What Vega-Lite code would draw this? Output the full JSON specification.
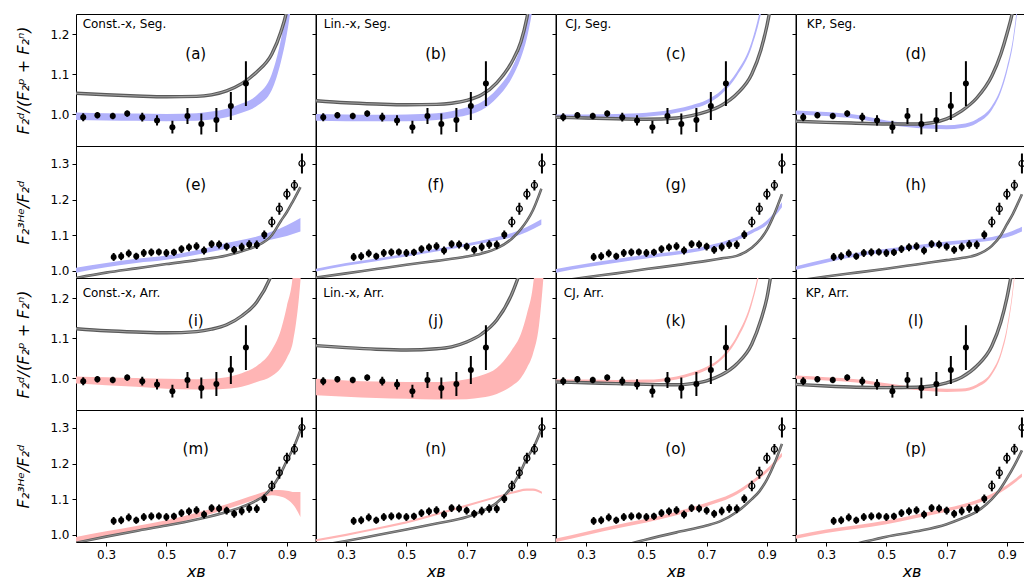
{
  "$schema": "https://vega.github.io/schema/vega-lite/v6.json",
  "background": "white",
  "padding": {"left": 15, "top": 13, "right": 0, "bottom": 0},
  "columns": 4,
  "spacing": 0,
  "bounds": "flush",
  "datasets": {
    "dnp": [
      {"x": 0.224, "y": 0.992, "lo": 0.982, "hi": 1.002},
      {"x": 0.271, "y": 0.997, "lo": 0.989, "hi": 1.005},
      {"x": 0.322, "y": 0.995, "lo": 0.987, "hi": 1.003},
      {"x": 0.370, "y": 1.001, "lo": 0.993, "hi": 1.009},
      {"x": 0.420, "y": 0.992, "lo": 0.981, "hi": 1.003},
      {"x": 0.469, "y": 0.984, "lo": 0.971, "hi": 0.997},
      {"x": 0.520, "y": 0.967, "lo": 0.951, "hi": 0.983},
      {"x": 0.570, "y": 0.995, "lo": 0.975, "hi": 1.015},
      {"x": 0.616, "y": 0.975, "lo": 0.949, "hi": 1.001},
      {"x": 0.666, "y": 0.985, "lo": 0.955, "hi": 1.015},
      {"x": 0.714, "y": 1.020, "lo": 0.985, "hi": 1.055},
      {"x": 0.764, "y": 1.076, "lo": 1.020, "hi": 1.132}
    ],
    "he": [
      {"x": 0.325, "y": 1.039, "lo": 1.028, "hi": 1.050, "o": 0},
      {"x": 0.350, "y": 1.041, "lo": 1.030, "hi": 1.052, "o": 0},
      {"x": 0.375, "y": 1.049, "lo": 1.038, "hi": 1.060, "o": 0},
      {"x": 0.400, "y": 1.041, "lo": 1.031, "hi": 1.051, "o": 0},
      {"x": 0.425, "y": 1.050, "lo": 1.039, "hi": 1.061, "o": 0},
      {"x": 0.450, "y": 1.052, "lo": 1.041, "hi": 1.063, "o": 0},
      {"x": 0.475, "y": 1.053, "lo": 1.043, "hi": 1.063, "o": 0},
      {"x": 0.500, "y": 1.050, "lo": 1.039, "hi": 1.061, "o": 0},
      {"x": 0.525, "y": 1.052, "lo": 1.042, "hi": 1.062, "o": 0},
      {"x": 0.550, "y": 1.061, "lo": 1.050, "hi": 1.072, "o": 0},
      {"x": 0.575, "y": 1.066, "lo": 1.055, "hi": 1.077, "o": 0},
      {"x": 0.600, "y": 1.069, "lo": 1.058, "hi": 1.080, "o": 0},
      {"x": 0.625, "y": 1.057, "lo": 1.046, "hi": 1.068, "o": 0},
      {"x": 0.650, "y": 1.075, "lo": 1.064, "hi": 1.086, "o": 0},
      {"x": 0.675, "y": 1.074, "lo": 1.063, "hi": 1.085, "o": 0},
      {"x": 0.700, "y": 1.068, "lo": 1.057, "hi": 1.079, "o": 0},
      {"x": 0.725, "y": 1.059, "lo": 1.048, "hi": 1.070, "o": 0},
      {"x": 0.750, "y": 1.067, "lo": 1.055, "hi": 1.079, "o": 0},
      {"x": 0.775, "y": 1.074, "lo": 1.062, "hi": 1.086, "o": 0},
      {"x": 0.800, "y": 1.073, "lo": 1.061, "hi": 1.085, "o": 0},
      {"x": 0.825, "y": 1.101, "lo": 1.089, "hi": 1.113, "o": 0},
      {"x": 0.850, "y": 1.137, "lo": 1.122, "hi": 1.152, "o": 1},
      {"x": 0.875, "y": 1.174, "lo": 1.157, "hi": 1.191, "o": 1},
      {"x": 0.900, "y": 1.215, "lo": 1.200, "hi": 1.230, "o": 1},
      {"x": 0.925, "y": 1.240, "lo": 1.225, "hi": 1.255, "o": 1},
      {"x": 0.950, "y": 1.301, "lo": 1.273, "hi": 1.329, "o": 1}
    ],
    "gray": [
      {"p": "a", "x": 0.2, "y": 1.052}, {"p": "a", "x": 0.3, "y": 1.048}, {"p": "a", "x": 0.4, "y": 1.045}, {"p": "a", "x": 0.5, "y": 1.043}, {"p": "a", "x": 0.6, "y": 1.044}, {"p": "a", "x": 0.65, "y": 1.048}, {"p": "a", "x": 0.7, "y": 1.058}, {"p": "a", "x": 0.75, "y": 1.076}, {"p": "a", "x": 0.8, "y": 1.105}, {"p": "a", "x": 0.85, "y": 1.15}, {"p": "a", "x": 0.88, "y": 1.205}, {"p": "a", "x": 0.9, "y": 1.26}, {"p": "a", "x": 0.92, "y": 1.36},
      {"p": "b", "x": 0.2, "y": 1.033}, {"p": "b", "x": 0.3, "y": 1.028}, {"p": "b", "x": 0.4, "y": 1.025}, {"p": "b", "x": 0.5, "y": 1.023}, {"p": "b", "x": 0.6, "y": 1.024}, {"p": "b", "x": 0.65, "y": 1.027}, {"p": "b", "x": 0.7, "y": 1.034}, {"p": "b", "x": 0.75, "y": 1.048}, {"p": "b", "x": 0.8, "y": 1.078}, {"p": "b", "x": 0.85, "y": 1.13}, {"p": "b", "x": 0.88, "y": 1.18}, {"p": "b", "x": 0.9, "y": 1.24}, {"p": "b", "x": 0.92, "y": 1.33},
      {"p": "c", "x": 0.2, "y": 0.992}, {"p": "c", "x": 0.3, "y": 0.99}, {"p": "c", "x": 0.4, "y": 0.988}, {"p": "c", "x": 0.5, "y": 0.987}, {"p": "c", "x": 0.6, "y": 0.99}, {"p": "c", "x": 0.65, "y": 0.996}, {"p": "c", "x": 0.7, "y": 1.006}, {"p": "c", "x": 0.75, "y": 1.022}, {"p": "c", "x": 0.8, "y": 1.05}, {"p": "c", "x": 0.85, "y": 1.1}, {"p": "c", "x": 0.88, "y": 1.16}, {"p": "c", "x": 0.9, "y": 1.22}, {"p": "c", "x": 0.92, "y": 1.3},
      {"p": "d", "x": 0.2, "y": 0.982}, {"p": "d", "x": 0.3, "y": 0.979}, {"p": "d", "x": 0.4, "y": 0.977}, {"p": "d", "x": 0.5, "y": 0.975}, {"p": "d", "x": 0.6, "y": 0.975}, {"p": "d", "x": 0.65, "y": 0.978}, {"p": "d", "x": 0.7, "y": 0.988}, {"p": "d", "x": 0.75, "y": 1.008}, {"p": "d", "x": 0.8, "y": 1.04}, {"p": "d", "x": 0.85, "y": 1.095}, {"p": "d", "x": 0.88, "y": 1.15}, {"p": "d", "x": 0.9, "y": 1.2}, {"p": "d", "x": 0.92, "y": 1.26}, {"p": "d", "x": 0.94, "y": 1.36},
      {"p": "e", "x": 0.2, "y": 0.98}, {"p": "e", "x": 0.3, "y": 0.995}, {"p": "e", "x": 0.4, "y": 1.007}, {"p": "e", "x": 0.5, "y": 1.019}, {"p": "e", "x": 0.6, "y": 1.03}, {"p": "e", "x": 0.7, "y": 1.043}, {"p": "e", "x": 0.75, "y": 1.055}, {"p": "e", "x": 0.8, "y": 1.07}, {"p": "e", "x": 0.85, "y": 1.1}, {"p": "e", "x": 0.88, "y": 1.14}, {"p": "e", "x": 0.9, "y": 1.165}, {"p": "e", "x": 0.92, "y": 1.195}, {"p": "e", "x": 0.945, "y": 1.235},
      {"p": "f", "x": 0.2, "y": 0.981}, {"p": "f", "x": 0.3, "y": 0.993}, {"p": "f", "x": 0.4, "y": 1.005}, {"p": "f", "x": 0.5, "y": 1.017}, {"p": "f", "x": 0.6, "y": 1.028}, {"p": "f", "x": 0.7, "y": 1.04}, {"p": "f", "x": 0.75, "y": 1.049}, {"p": "f", "x": 0.8, "y": 1.063}, {"p": "f", "x": 0.85, "y": 1.09}, {"p": "f", "x": 0.88, "y": 1.117}, {"p": "f", "x": 0.9, "y": 1.14}, {"p": "f", "x": 0.92, "y": 1.17}, {"p": "f", "x": 0.948, "y": 1.23},
      {"p": "g", "x": 0.2, "y": 0.97}, {"p": "g", "x": 0.3, "y": 0.982}, {"p": "g", "x": 0.4, "y": 0.993}, {"p": "g", "x": 0.5, "y": 1.005}, {"p": "g", "x": 0.6, "y": 1.016}, {"p": "g", "x": 0.7, "y": 1.028}, {"p": "g", "x": 0.75, "y": 1.035}, {"p": "g", "x": 0.8, "y": 1.042}, {"p": "g", "x": 0.85, "y": 1.065}, {"p": "g", "x": 0.88, "y": 1.09}, {"p": "g", "x": 0.9, "y": 1.115}, {"p": "g", "x": 0.92, "y": 1.15}, {"p": "g", "x": 0.95, "y": 1.215},
      {"p": "h", "x": 0.2, "y": 0.972}, {"p": "h", "x": 0.3, "y": 0.984}, {"p": "h", "x": 0.4, "y": 0.995}, {"p": "h", "x": 0.5, "y": 1.006}, {"p": "h", "x": 0.6, "y": 1.018}, {"p": "h", "x": 0.7, "y": 1.03}, {"p": "h", "x": 0.75, "y": 1.036}, {"p": "h", "x": 0.8, "y": 1.045}, {"p": "h", "x": 0.85, "y": 1.07}, {"p": "h", "x": 0.88, "y": 1.1}, {"p": "h", "x": 0.9, "y": 1.13}, {"p": "h", "x": 0.92, "y": 1.16}, {"p": "h", "x": 0.95, "y": 1.215},
      {"p": "i", "x": 0.2, "y": 1.123}, {"p": "i", "x": 0.3, "y": 1.118}, {"p": "i", "x": 0.4, "y": 1.115}, {"p": "i", "x": 0.5, "y": 1.113}, {"p": "i", "x": 0.6, "y": 1.116}, {"p": "i", "x": 0.65, "y": 1.122}, {"p": "i", "x": 0.7, "y": 1.133}, {"p": "i", "x": 0.75, "y": 1.155}, {"p": "i", "x": 0.8, "y": 1.19}, {"p": "i", "x": 0.85, "y": 1.26}, {"p": "i", "x": 0.88, "y": 1.33},
      {"p": "j", "x": 0.2, "y": 1.081}, {"p": "j", "x": 0.3, "y": 1.076}, {"p": "j", "x": 0.4, "y": 1.072}, {"p": "j", "x": 0.5, "y": 1.07}, {"p": "j", "x": 0.6, "y": 1.073}, {"p": "j", "x": 0.65, "y": 1.078}, {"p": "j", "x": 0.7, "y": 1.09}, {"p": "j", "x": 0.75, "y": 1.11}, {"p": "j", "x": 0.8, "y": 1.145}, {"p": "j", "x": 0.85, "y": 1.21}, {"p": "j", "x": 0.88, "y": 1.27},
      {"p": "k", "x": 0.2, "y": 0.99}, {"p": "k", "x": 0.3, "y": 0.988}, {"p": "k", "x": 0.4, "y": 0.986}, {"p": "k", "x": 0.5, "y": 0.984}, {"p": "k", "x": 0.6, "y": 0.983}, {"p": "k", "x": 0.65, "y": 0.986}, {"p": "k", "x": 0.7, "y": 0.993}, {"p": "k", "x": 0.75, "y": 1.008}, {"p": "k", "x": 0.8, "y": 1.035}, {"p": "k", "x": 0.85, "y": 1.085}, {"p": "k", "x": 0.88, "y": 1.145}, {"p": "k", "x": 0.9, "y": 1.2}, {"p": "k", "x": 0.92, "y": 1.29},
      {"p": "l", "x": 0.2, "y": 0.984}, {"p": "l", "x": 0.3, "y": 0.98}, {"p": "l", "x": 0.4, "y": 0.977}, {"p": "l", "x": 0.5, "y": 0.976}, {"p": "l", "x": 0.6, "y": 0.977}, {"p": "l", "x": 0.65, "y": 0.98}, {"p": "l", "x": 0.7, "y": 0.988}, {"p": "l", "x": 0.75, "y": 1.002}, {"p": "l", "x": 0.8, "y": 1.03}, {"p": "l", "x": 0.85, "y": 1.08}, {"p": "l", "x": 0.88, "y": 1.14}, {"p": "l", "x": 0.9, "y": 1.2}, {"p": "l", "x": 0.92, "y": 1.28},
      {"p": "m", "x": 0.2, "y": 0.978}, {"p": "m", "x": 0.3, "y": 0.995}, {"p": "m", "x": 0.4, "y": 1.011}, {"p": "m", "x": 0.5, "y": 1.026}, {"p": "m", "x": 0.6, "y": 1.043}, {"p": "m", "x": 0.7, "y": 1.064}, {"p": "m", "x": 0.75, "y": 1.078}, {"p": "m", "x": 0.8, "y": 1.097}, {"p": "m", "x": 0.825, "y": 1.11}, {"p": "m", "x": 0.85, "y": 1.133}, {"p": "m", "x": 0.875, "y": 1.165}, {"p": "m", "x": 0.9, "y": 1.208}, {"p": "m", "x": 0.925, "y": 1.25}, {"p": "m", "x": 0.95, "y": 1.305},
      {"p": "n", "x": 0.2, "y": 0.968}, {"p": "n", "x": 0.3, "y": 0.983}, {"p": "n", "x": 0.4, "y": 0.999}, {"p": "n", "x": 0.5, "y": 1.015}, {"p": "n", "x": 0.6, "y": 1.032}, {"p": "n", "x": 0.7, "y": 1.05}, {"p": "n", "x": 0.75, "y": 1.066}, {"p": "n", "x": 0.8, "y": 1.09}, {"p": "n", "x": 0.85, "y": 1.135}, {"p": "n", "x": 0.875, "y": 1.17}, {"p": "n", "x": 0.9, "y": 1.215}, {"p": "n", "x": 0.925, "y": 1.25}, {"p": "n", "x": 0.95, "y": 1.3},
      {"p": "o", "x": 0.2, "y": 0.925}, {"p": "o", "x": 0.3, "y": 0.945}, {"p": "o", "x": 0.4, "y": 0.965}, {"p": "o", "x": 0.5, "y": 0.987}, {"p": "o", "x": 0.6, "y": 1.007}, {"p": "o", "x": 0.7, "y": 1.026}, {"p": "o", "x": 0.75, "y": 1.04}, {"p": "o", "x": 0.8, "y": 1.064}, {"p": "o", "x": 0.85, "y": 1.1}, {"p": "o", "x": 0.875, "y": 1.122}, {"p": "o", "x": 0.9, "y": 1.155}, {"p": "o", "x": 0.925, "y": 1.2}, {"p": "o", "x": 0.95, "y": 1.255},
      {"p": "p", "x": 0.2, "y": 0.93}, {"p": "p", "x": 0.3, "y": 0.955}, {"p": "p", "x": 0.4, "y": 0.975}, {"p": "p", "x": 0.5, "y": 0.995}, {"p": "p", "x": 0.6, "y": 1.01}, {"p": "p", "x": 0.7, "y": 1.03}, {"p": "p", "x": 0.75, "y": 1.046}, {"p": "p", "x": 0.8, "y": 1.065}, {"p": "p", "x": 0.85, "y": 1.1}, {"p": "p", "x": 0.875, "y": 1.125}, {"p": "p", "x": 0.9, "y": 1.158}, {"p": "p", "x": 0.925, "y": 1.195}, {"p": "p", "x": 0.95, "y": 1.237}
    ],
    "band": [
      {"p": "a", "x": 0.2, "lo": 0.985, "hi": 1.004}, {"p": "a", "x": 0.3, "lo": 0.984, "hi": 1.002}, {"p": "a", "x": 0.4, "lo": 0.983, "hi": 1.001}, {"p": "a", "x": 0.5, "lo": 0.982, "hi": 1.0}, {"p": "a", "x": 0.6, "lo": 0.983, "hi": 1.002}, {"p": "a", "x": 0.65, "lo": 0.986, "hi": 1.006}, {"p": "a", "x": 0.7, "lo": 0.992, "hi": 1.013}, {"p": "a", "x": 0.75, "lo": 1.003, "hi": 1.026}, {"p": "a", "x": 0.8, "lo": 1.02, "hi": 1.047}, {"p": "a", "x": 0.85, "lo": 1.06, "hi": 1.1}, {"p": "a", "x": 0.88, "lo": 1.13, "hi": 1.185}, {"p": "a", "x": 0.9, "lo": 1.2, "hi": 1.27}, {"p": "a", "x": 0.92, "lo": 1.3, "hi": 1.4},
      {"p": "b", "x": 0.2, "lo": 0.983, "hi": 1.0}, {"p": "b", "x": 0.3, "lo": 0.982, "hi": 0.999}, {"p": "b", "x": 0.4, "lo": 0.982, "hi": 0.998}, {"p": "b", "x": 0.5, "lo": 0.982, "hi": 0.999}, {"p": "b", "x": 0.6, "lo": 0.985, "hi": 1.002}, {"p": "b", "x": 0.65, "lo": 0.99, "hi": 1.007}, {"p": "b", "x": 0.7, "lo": 0.997, "hi": 1.016}, {"p": "b", "x": 0.75, "lo": 1.01, "hi": 1.03}, {"p": "b", "x": 0.8, "lo": 1.04, "hi": 1.062}, {"p": "b", "x": 0.85, "lo": 1.09, "hi": 1.115}, {"p": "b", "x": 0.88, "lo": 1.14, "hi": 1.17}, {"p": "b", "x": 0.9, "lo": 1.19, "hi": 1.23}, {"p": "b", "x": 0.92, "lo": 1.27, "hi": 1.32}, {"p": "b", "x": 0.94, "lo": 1.4, "hi": 1.46},
      {"p": "c", "x": 0.2, "lo": 0.989, "hi": 0.999}, {"p": "c", "x": 0.3, "lo": 0.989, "hi": 0.999}, {"p": "c", "x": 0.4, "lo": 0.99, "hi": 1.0}, {"p": "c", "x": 0.5, "lo": 0.993, "hi": 1.003}, {"p": "c", "x": 0.6, "lo": 1.003, "hi": 1.013}, {"p": "c", "x": 0.65, "lo": 1.012, "hi": 1.022}, {"p": "c", "x": 0.7, "lo": 1.025, "hi": 1.035}, {"p": "c", "x": 0.75, "lo": 1.05, "hi": 1.06}, {"p": "c", "x": 0.8, "lo": 1.095, "hi": 1.105}, {"p": "c", "x": 0.85, "lo": 1.168, "hi": 1.182}, {"p": "c", "x": 0.88, "lo": 1.25, "hi": 1.27}, {"p": "c", "x": 0.9, "lo": 1.33, "hi": 1.35},
      {"p": "d", "x": 0.2, "lo": 0.999, "hi": 1.009}, {"p": "d", "x": 0.3, "lo": 0.995, "hi": 1.005}, {"p": "d", "x": 0.4, "lo": 0.988, "hi": 0.998}, {"p": "d", "x": 0.5, "lo": 0.974, "hi": 0.984}, {"p": "d", "x": 0.6, "lo": 0.965, "hi": 0.975}, {"p": "d", "x": 0.65, "lo": 0.963, "hi": 0.973}, {"p": "d", "x": 0.7, "lo": 0.962, "hi": 0.972}, {"p": "d", "x": 0.75, "lo": 0.965, "hi": 0.975}, {"p": "d", "x": 0.8, "lo": 0.977, "hi": 0.987}, {"p": "d", "x": 0.85, "lo": 1.01, "hi": 1.02}, {"p": "d", "x": 0.88, "lo": 1.055, "hi": 1.065}, {"p": "d", "x": 0.9, "lo": 1.104, "hi": 1.116}, {"p": "d", "x": 0.92, "lo": 1.173, "hi": 1.187}, {"p": "d", "x": 0.94, "lo": 1.29, "hi": 1.31},
      {"p": "e", "x": 0.2, "lo": 0.995, "hi": 1.009}, {"p": "e", "x": 0.3, "lo": 1.01, "hi": 1.022}, {"p": "e", "x": 0.4, "lo": 1.022, "hi": 1.034}, {"p": "e", "x": 0.5, "lo": 1.031, "hi": 1.043}, {"p": "e", "x": 0.6, "lo": 1.045, "hi": 1.058}, {"p": "e", "x": 0.7, "lo": 1.062, "hi": 1.078}, {"p": "e", "x": 0.8, "lo": 1.078, "hi": 1.096}, {"p": "e", "x": 0.85, "lo": 1.088, "hi": 1.11}, {"p": "e", "x": 0.9, "lo": 1.098, "hi": 1.128}, {"p": "e", "x": 0.945, "lo": 1.11, "hi": 1.148},
      {"p": "f", "x": 0.2, "lo": 0.998, "hi": 1.006}, {"p": "f", "x": 0.3, "lo": 1.014, "hi": 1.022}, {"p": "f", "x": 0.4, "lo": 1.027, "hi": 1.035}, {"p": "f", "x": 0.5, "lo": 1.04, "hi": 1.048}, {"p": "f", "x": 0.6, "lo": 1.054, "hi": 1.062}, {"p": "f", "x": 0.7, "lo": 1.069, "hi": 1.077}, {"p": "f", "x": 0.8, "lo": 1.085, "hi": 1.095}, {"p": "f", "x": 0.85, "lo": 1.094, "hi": 1.106}, {"p": "f", "x": 0.9, "lo": 1.109, "hi": 1.123}, {"p": "f", "x": 0.948, "lo": 1.129, "hi": 1.145},
      {"p": "g", "x": 0.2, "lo": 0.995, "hi": 1.005}, {"p": "g", "x": 0.3, "lo": 1.01, "hi": 1.02}, {"p": "g", "x": 0.4, "lo": 1.023, "hi": 1.033}, {"p": "g", "x": 0.5, "lo": 1.035, "hi": 1.045}, {"p": "g", "x": 0.6, "lo": 1.045, "hi": 1.055}, {"p": "g", "x": 0.7, "lo": 1.06, "hi": 1.07}, {"p": "g", "x": 0.8, "lo": 1.085, "hi": 1.095}, {"p": "g", "x": 0.85, "lo": 1.105, "hi": 1.115}, {"p": "g", "x": 0.9, "lo": 1.129, "hi": 1.141}, {"p": "g", "x": 0.95, "lo": 1.178, "hi": 1.192},
      {"p": "h", "x": 0.2, "lo": 1.003, "hi": 1.013}, {"p": "h", "x": 0.3, "lo": 1.023, "hi": 1.033}, {"p": "h", "x": 0.4, "lo": 1.04, "hi": 1.05}, {"p": "h", "x": 0.5, "lo": 1.052, "hi": 1.062}, {"p": "h", "x": 0.6, "lo": 1.062, "hi": 1.072}, {"p": "h", "x": 0.7, "lo": 1.072, "hi": 1.082}, {"p": "h", "x": 0.8, "lo": 1.08, "hi": 1.09}, {"p": "h", "x": 0.85, "lo": 1.085, "hi": 1.095}, {"p": "h", "x": 0.9, "lo": 1.094, "hi": 1.106}, {"p": "h", "x": 0.95, "lo": 1.11, "hi": 1.124},
      {"p": "i", "x": 0.2, "lo": 0.986, "hi": 1.004}, {"p": "i", "x": 0.3, "lo": 0.982, "hi": 1.002}, {"p": "i", "x": 0.4, "lo": 0.978, "hi": 1.0}, {"p": "i", "x": 0.5, "lo": 0.973, "hi": 0.998}, {"p": "i", "x": 0.6, "lo": 0.971, "hi": 0.997}, {"p": "i", "x": 0.65, "lo": 0.971, "hi": 0.998}, {"p": "i", "x": 0.7, "lo": 0.973, "hi": 1.002}, {"p": "i", "x": 0.75, "lo": 0.978, "hi": 1.012}, {"p": "i", "x": 0.8, "lo": 0.99, "hi": 1.03}, {"p": "i", "x": 0.85, "lo": 1.005, "hi": 1.07}, {"p": "i", "x": 0.88, "lo": 1.025, "hi": 1.12}, {"p": "i", "x": 0.9, "lo": 1.05, "hi": 1.18}, {"p": "i", "x": 0.92, "lo": 1.09, "hi": 1.26}, {"p": "i", "x": 0.94, "lo": 1.2, "hi": 1.5}, {"p": "i", "x": 0.96, "lo": 1.4, "hi": 1.8},
      {"p": "j", "x": 0.2, "lo": 0.957, "hi": 0.998}, {"p": "j", "x": 0.3, "lo": 0.953, "hi": 0.994}, {"p": "j", "x": 0.4, "lo": 0.95, "hi": 0.991}, {"p": "j", "x": 0.5, "lo": 0.948, "hi": 0.99}, {"p": "j", "x": 0.6, "lo": 0.946, "hi": 0.99}, {"p": "j", "x": 0.7, "lo": 0.947, "hi": 0.997}, {"p": "j", "x": 0.75, "lo": 0.951, "hi": 1.007}, {"p": "j", "x": 0.8, "lo": 0.96, "hi": 1.025}, {"p": "j", "x": 0.85, "lo": 0.98, "hi": 1.07}, {"p": "j", "x": 0.88, "lo": 1.0, "hi": 1.11}, {"p": "j", "x": 0.9, "lo": 1.025, "hi": 1.16}, {"p": "j", "x": 0.92, "lo": 1.06, "hi": 1.23}, {"p": "j", "x": 0.94, "lo": 1.13, "hi": 1.4}, {"p": "j", "x": 0.96, "lo": 1.3, "hi": 1.8},
      {"p": "k", "x": 0.2, "lo": 0.989, "hi": 0.997}, {"p": "k", "x": 0.3, "lo": 0.988, "hi": 0.996}, {"p": "k", "x": 0.4, "lo": 0.987, "hi": 0.995}, {"p": "k", "x": 0.5, "lo": 0.988, "hi": 0.996}, {"p": "k", "x": 0.6, "lo": 0.996, "hi": 1.004}, {"p": "k", "x": 0.65, "lo": 1.006, "hi": 1.014}, {"p": "k", "x": 0.7, "lo": 1.02, "hi": 1.028}, {"p": "k", "x": 0.75, "lo": 1.046, "hi": 1.054}, {"p": "k", "x": 0.8, "lo": 1.095, "hi": 1.105}, {"p": "k", "x": 0.85, "lo": 1.184, "hi": 1.196}, {"p": "k", "x": 0.87, "lo": 1.243, "hi": 1.257}, {"p": "k", "x": 0.9, "lo": 1.37, "hi": 1.39},
      {"p": "l", "x": 0.2, "lo": 0.998, "hi": 1.006}, {"p": "l", "x": 0.3, "lo": 0.994, "hi": 1.002}, {"p": "l", "x": 0.4, "lo": 0.989, "hi": 0.997}, {"p": "l", "x": 0.5, "lo": 0.979, "hi": 0.987}, {"p": "l", "x": 0.6, "lo": 0.97, "hi": 0.978}, {"p": "l", "x": 0.7, "lo": 0.965, "hi": 0.973}, {"p": "l", "x": 0.75, "lo": 0.966, "hi": 0.974}, {"p": "l", "x": 0.8, "lo": 0.976, "hi": 0.984}, {"p": "l", "x": 0.85, "lo": 1.008, "hi": 1.016}, {"p": "l", "x": 0.88, "lo": 1.055, "hi": 1.065}, {"p": "l", "x": 0.9, "lo": 1.114, "hi": 1.126}, {"p": "l", "x": 0.92, "lo": 1.213, "hi": 1.227}, {"p": "l", "x": 0.94, "lo": 1.37, "hi": 1.39},
      {"p": "m", "x": 0.2, "lo": 0.98, "hi": 0.994}, {"p": "m", "x": 0.3, "lo": 0.996, "hi": 1.01}, {"p": "m", "x": 0.4, "lo": 1.011, "hi": 1.025}, {"p": "m", "x": 0.5, "lo": 1.027, "hi": 1.041}, {"p": "m", "x": 0.6, "lo": 1.048, "hi": 1.062}, {"p": "m", "x": 0.7, "lo": 1.072, "hi": 1.086}, {"p": "m", "x": 0.75, "lo": 1.086, "hi": 1.1}, {"p": "m", "x": 0.8, "lo": 1.1, "hi": 1.114}, {"p": "m", "x": 0.85, "lo": 1.111, "hi": 1.125}, {"p": "m", "x": 0.875, "lo": 1.108, "hi": 1.126}, {"p": "m", "x": 0.9, "lo": 1.1, "hi": 1.124}, {"p": "m", "x": 0.925, "lo": 1.08, "hi": 1.12}, {"p": "m", "x": 0.945, "lo": 1.05, "hi": 1.12},
      {"p": "n", "x": 0.2, "lo": 0.982, "hi": 0.988}, {"p": "n", "x": 0.3, "lo": 0.997, "hi": 1.003}, {"p": "n", "x": 0.4, "lo": 1.014, "hi": 1.02}, {"p": "n", "x": 0.5, "lo": 1.032, "hi": 1.038}, {"p": "n", "x": 0.6, "lo": 1.055, "hi": 1.061}, {"p": "n", "x": 0.7, "lo": 1.079, "hi": 1.085}, {"p": "n", "x": 0.8, "lo": 1.103, "hi": 1.109}, {"p": "n", "x": 0.85, "lo": 1.115, "hi": 1.121}, {"p": "n", "x": 0.9, "lo": 1.124, "hi": 1.13}, {"p": "n", "x": 0.92, "lo": 1.124, "hi": 1.13}, {"p": "n", "x": 0.95, "lo": 1.115, "hi": 1.121},
      {"p": "o", "x": 0.2, "lo": 0.98, "hi": 0.99}, {"p": "o", "x": 0.3, "lo": 0.999, "hi": 1.009}, {"p": "o", "x": 0.4, "lo": 1.018, "hi": 1.028}, {"p": "o", "x": 0.5, "lo": 1.035, "hi": 1.045}, {"p": "o", "x": 0.6, "lo": 1.055, "hi": 1.065}, {"p": "o", "x": 0.7, "lo": 1.08, "hi": 1.09}, {"p": "o", "x": 0.8, "lo": 1.113, "hi": 1.123}, {"p": "o", "x": 0.85, "lo": 1.142, "hi": 1.152}, {"p": "o", "x": 0.9, "lo": 1.175, "hi": 1.185}, {"p": "o", "x": 0.95, "lo": 1.22, "hi": 1.23},
      {"p": "p", "x": 0.2, "lo": 0.989, "hi": 0.999}, {"p": "p", "x": 0.3, "lo": 1.005, "hi": 1.015}, {"p": "p", "x": 0.4, "lo": 1.017, "hi": 1.027}, {"p": "p", "x": 0.5, "lo": 1.03, "hi": 1.04}, {"p": "p", "x": 0.6, "lo": 1.047, "hi": 1.057}, {"p": "p", "x": 0.7, "lo": 1.065, "hi": 1.075}, {"p": "p", "x": 0.8, "lo": 1.088, "hi": 1.098}, {"p": "p", "x": 0.85, "lo": 1.105, "hi": 1.115}, {"p": "p", "x": 0.9, "lo": 1.13, "hi": 1.14}, {"p": "p", "x": 0.95, "lo": 1.162, "hi": 1.172}
    ],
    "tag": [
      {"p": "a", "x": 0.5975, "y": 1.15, "t": "(a)"}, {"p": "b", "x": 0.5975, "y": 1.15, "t": "(b)"}, {"p": "c", "x": 0.5975, "y": 1.15, "t": "(c)"}, {"p": "d", "x": 0.5975, "y": 1.15, "t": "(d)"},
      {"p": "e", "x": 0.5975, "y": 1.24, "t": "(e)"}, {"p": "f", "x": 0.5975, "y": 1.24, "t": "(f)"}, {"p": "g", "x": 0.5975, "y": 1.24, "t": "(g)"}, {"p": "h", "x": 0.5975, "y": 1.24, "t": "(h)"},
      {"p": "i", "x": 0.5975, "y": 1.142, "t": "(i)"}, {"p": "j", "x": 0.5975, "y": 1.142, "t": "(j)"}, {"p": "k", "x": 0.5975, "y": 1.142, "t": "(k)"}, {"p": "l", "x": 0.5975, "y": 1.142, "t": "(l)"},
      {"p": "m", "x": 0.5975, "y": 1.242, "t": "(m)"}, {"p": "n", "x": 0.5975, "y": 1.242, "t": "(n)"}, {"p": "o", "x": 0.5975, "y": 1.242, "t": "(o)"}, {"p": "p", "x": 0.5975, "y": 1.242, "t": "(p)"}
    ],
    "nm": [
      {"p": "a", "x": 0.222, "y": 1.225, "t": "Const.-x, Seg."}, {"p": "b", "x": 0.226, "y": 1.225, "t": "Lin.-x, Seg."}, {"p": "c", "x": 0.231, "y": 1.225, "t": "CJ, Seg."}, {"p": "d", "x": 0.236, "y": 1.225, "t": "KP, Seg."},
      {"p": "i", "x": 0.222, "y": 1.212, "t": "Const.-x, Arr."}, {"p": "j", "x": 0.224, "y": 1.212, "t": "Lin.-x, Arr."}, {"p": "k", "x": 0.226, "y": 1.212, "t": "CJ, Arr."}, {"p": "l", "x": 0.232, "y": 1.212, "t": "KP, Arr."}
    ]
  },
  "concat": [
    {"width": 239.5, "height": 132,
     "encoding": {"x": {"field": "x", "type": "quantitative", "scale": {"domain": [0.2, 0.995]}, "axis": null},
                  "y": {"field": "y", "type": "quantitative", "scale": {"domain": [0.92, 1.25]}, "axis": {"values": [1.0, 1.1, 1.2], "format": ".1f", "title": "F₂ᵈ/(F₂ᵖ + F₂ⁿ)", "titleFontWeight": "normal"}}},
     "layer": [
       {"data": {"name": "band"}, "transform": [{"filter": "datum.p == 'a'"}], "mark": {"type": "area", "color": "#b1b1fb", "interpolate": "monotone", "clip": true}, "encoding": {"y": {"field": "lo", "type": "quantitative"}, "y2": {"field": "hi"}}},
       {"data": {"name": "gray"}, "transform": [{"filter": "datum.p == 'a'"}], "mark": {"type": "line", "color": "#5a5a5a", "strokeWidth": 3.4, "interpolate": "monotone", "clip": true}, "encoding": {}},
       {"data": {"name": "gray"}, "transform": [{"filter": "datum.p == 'a'"}], "mark": {"type": "line", "color": "#a2a2a2", "strokeWidth": 1.1, "interpolate": "monotone", "clip": true}, "encoding": {}},
       {"data": {"name": "dnp"}, "mark": {"type": "rule", "color": "black", "strokeWidth": 2, "clip": true}, "encoding": {"y": {"field": "lo", "type": "quantitative"}, "y2": {"field": "hi"}}},
       {"data": {"name": "dnp"}, "mark": {"type": "circle", "color": "black", "size": 36, "opacity": 1}, "encoding": {}},
       {"data": {"name": "tag"}, "transform": [{"filter": "datum.p == 'a'"}], "mark": {"type": "text", "fontSize": 15, "color": "black"}, "encoding": {"text": {"field": "t"}}},
       {"data": {"name": "nm"}, "transform": [{"filter": "datum.p == 'a'"}], "mark": {"type": "text", "fontSize": 12, "align": "left", "color": "black"}, "encoding": {"text": {"field": "t"}}}
     ]},
    {"width": 239.5, "height": 132,
     "encoding": {"x": {"field": "x", "type": "quantitative", "scale": {"domain": [0.2, 0.995]}, "axis": null},
                  "y": {"field": "y", "type": "quantitative", "scale": {"domain": [0.92, 1.25]}, "axis": {"values": [1.0, 1.1, 1.2], "labels": false, "title": null}}},
     "layer": [
       {"data": {"name": "band"}, "transform": [{"filter": "datum.p == 'b'"}], "mark": {"type": "area", "color": "#b1b1fb", "interpolate": "monotone", "clip": true}, "encoding": {"y": {"field": "lo", "type": "quantitative"}, "y2": {"field": "hi"}}},
       {"data": {"name": "gray"}, "transform": [{"filter": "datum.p == 'b'"}], "mark": {"type": "line", "color": "#5a5a5a", "strokeWidth": 3.4, "interpolate": "monotone", "clip": true}, "encoding": {}},
       {"data": {"name": "gray"}, "transform": [{"filter": "datum.p == 'b'"}], "mark": {"type": "line", "color": "#a2a2a2", "strokeWidth": 1.1, "interpolate": "monotone", "clip": true}, "encoding": {}},
       {"data": {"name": "dnp"}, "mark": {"type": "rule", "color": "black", "strokeWidth": 2, "clip": true}, "encoding": {"y": {"field": "lo", "type": "quantitative"}, "y2": {"field": "hi"}}},
       {"data": {"name": "dnp"}, "mark": {"type": "circle", "color": "black", "size": 36, "opacity": 1}, "encoding": {}},
       {"data": {"name": "tag"}, "transform": [{"filter": "datum.p == 'b'"}], "mark": {"type": "text", "fontSize": 15, "color": "black"}, "encoding": {"text": {"field": "t"}}},
       {"data": {"name": "nm"}, "transform": [{"filter": "datum.p == 'b'"}], "mark": {"type": "text", "fontSize": 12, "align": "left", "color": "black"}, "encoding": {"text": {"field": "t"}}}
     ]},
    {"width": 239.5, "height": 132,
     "encoding": {"x": {"field": "x", "type": "quantitative", "scale": {"domain": [0.2, 0.995]}, "axis": null},
                  "y": {"field": "y", "type": "quantitative", "scale": {"domain": [0.92, 1.25]}, "axis": {"values": [1.0, 1.1, 1.2], "labels": false, "title": null}}},
     "layer": [
       {"data": {"name": "band"}, "transform": [{"filter": "datum.p == 'c'"}], "mark": {"type": "area", "color": "#b1b1fb", "interpolate": "monotone", "clip": true}, "encoding": {"y": {"field": "lo", "type": "quantitative"}, "y2": {"field": "hi"}}},
       {"data": {"name": "gray"}, "transform": [{"filter": "datum.p == 'c'"}], "mark": {"type": "line", "color": "#5a5a5a", "strokeWidth": 3.4, "interpolate": "monotone", "clip": true}, "encoding": {}},
       {"data": {"name": "gray"}, "transform": [{"filter": "datum.p == 'c'"}], "mark": {"type": "line", "color": "#a2a2a2", "strokeWidth": 1.1, "interpolate": "monotone", "clip": true}, "encoding": {}},
       {"data": {"name": "dnp"}, "mark": {"type": "rule", "color": "black", "strokeWidth": 2, "clip": true}, "encoding": {"y": {"field": "lo", "type": "quantitative"}, "y2": {"field": "hi"}}},
       {"data": {"name": "dnp"}, "mark": {"type": "circle", "color": "black", "size": 36, "opacity": 1}, "encoding": {}},
       {"data": {"name": "tag"}, "transform": [{"filter": "datum.p == 'c'"}], "mark": {"type": "text", "fontSize": 15, "color": "black"}, "encoding": {"text": {"field": "t"}}},
       {"data": {"name": "nm"}, "transform": [{"filter": "datum.p == 'c'"}], "mark": {"type": "text", "fontSize": 12, "align": "left", "color": "black"}, "encoding": {"text": {"field": "t"}}}
     ]},
    {"width": 231, "height": 132,
     "encoding": {"x": {"field": "x", "type": "quantitative", "scale": {"domain": [0.2, 0.9668]}, "axis": null},
                  "y": {"field": "y", "type": "quantitative", "scale": {"domain": [0.92, 1.25]}, "axis": {"values": [1.0, 1.1, 1.2], "labels": false, "title": null}}},
     "layer": [
       {"data": {"name": "band"}, "transform": [{"filter": "datum.p == 'd'"}], "mark": {"type": "area", "color": "#b1b1fb", "interpolate": "monotone", "clip": true}, "encoding": {"y": {"field": "lo", "type": "quantitative"}, "y2": {"field": "hi"}}},
       {"data": {"name": "gray"}, "transform": [{"filter": "datum.p == 'd'"}], "mark": {"type": "line", "color": "#5a5a5a", "strokeWidth": 3.4, "interpolate": "monotone", "clip": true}, "encoding": {}},
       {"data": {"name": "gray"}, "transform": [{"filter": "datum.p == 'd'"}], "mark": {"type": "line", "color": "#a2a2a2", "strokeWidth": 1.1, "interpolate": "monotone", "clip": true}, "encoding": {}},
       {"data": {"name": "dnp"}, "mark": {"type": "rule", "color": "black", "strokeWidth": 2, "clip": true}, "encoding": {"y": {"field": "lo", "type": "quantitative"}, "y2": {"field": "hi"}}},
       {"data": {"name": "dnp"}, "mark": {"type": "circle", "color": "black", "size": 36, "opacity": 1}, "encoding": {}},
       {"data": {"name": "tag"}, "transform": [{"filter": "datum.p == 'd'"}], "mark": {"type": "text", "fontSize": 15, "color": "black"}, "encoding": {"text": {"field": "t"}}},
       {"data": {"name": "nm"}, "transform": [{"filter": "datum.p == 'd'"}], "mark": {"type": "text", "fontSize": 12, "align": "left", "color": "black"}, "encoding": {"text": {"field": "t"}}}
     ]},
    {"width": 239.5, "height": 132,
     "encoding": {"x": {"field": "x", "type": "quantitative", "scale": {"domain": [0.2, 0.995]}, "axis": null},
                  "y": {"field": "y", "type": "quantitative", "scale": {"domain": [0.98, 1.35]}, "axis": {"values": [1.0, 1.1, 1.2, 1.3], "format": ".1f", "title": "F₂³ᴴᵉ/F₂ᵈ", "titleFontWeight": "normal"}}},
     "layer": [
       {"data": {"name": "band"}, "transform": [{"filter": "datum.p == 'e'"}], "mark": {"type": "area", "color": "#b1b1fb", "interpolate": "monotone", "clip": true}, "encoding": {"y": {"field": "lo", "type": "quantitative"}, "y2": {"field": "hi"}}},
       {"data": {"name": "gray"}, "transform": [{"filter": "datum.p == 'e'"}], "mark": {"type": "line", "color": "#5f5f5f", "strokeWidth": 2.6, "interpolate": "monotone", "clip": true}, "encoding": {}},
       {"data": {"name": "gray"}, "transform": [{"filter": "datum.p == 'e'"}], "mark": {"type": "line", "color": "#9a9a9a", "strokeWidth": 0.8, "interpolate": "monotone", "clip": true}, "encoding": {}},
       {"data": {"name": "he"}, "mark": {"type": "rule", "color": "black", "strokeWidth": 2, "clip": true}, "encoding": {"y": {"field": "lo", "type": "quantitative"}, "y2": {"field": "hi"}}},
       {"data": {"name": "he"}, "transform": [{"filter": "datum.o == 0"}], "mark": {"type": "circle", "color": "black", "size": 36, "opacity": 1}, "encoding": {}},
       {"data": {"name": "he"}, "transform": [{"filter": "datum.o == 1"}], "mark": {"type": "point", "filled": false, "color": "black", "size": 36, "strokeWidth": 1.2, "opacity": 1}, "encoding": {}},
       {"data": {"name": "tag"}, "transform": [{"filter": "datum.p == 'e'"}], "mark": {"type": "text", "fontSize": 15, "color": "black"}, "encoding": {"text": {"field": "t"}}}
     ]},
    {"width": 239.5, "height": 132,
     "encoding": {"x": {"field": "x", "type": "quantitative", "scale": {"domain": [0.2, 0.995]}, "axis": null},
                  "y": {"field": "y", "type": "quantitative", "scale": {"domain": [0.98, 1.35]}, "axis": {"values": [1.0, 1.1, 1.2, 1.3], "labels": false, "title": null}}},
     "layer": [
       {"data": {"name": "band"}, "transform": [{"filter": "datum.p == 'f'"}], "mark": {"type": "area", "color": "#b1b1fb", "interpolate": "monotone", "clip": true}, "encoding": {"y": {"field": "lo", "type": "quantitative"}, "y2": {"field": "hi"}}},
       {"data": {"name": "gray"}, "transform": [{"filter": "datum.p == 'f'"}], "mark": {"type": "line", "color": "#5f5f5f", "strokeWidth": 2.6, "interpolate": "monotone", "clip": true}, "encoding": {}},
       {"data": {"name": "gray"}, "transform": [{"filter": "datum.p == 'f'"}], "mark": {"type": "line", "color": "#9a9a9a", "strokeWidth": 0.8, "interpolate": "monotone", "clip": true}, "encoding": {}},
       {"data": {"name": "he"}, "mark": {"type": "rule", "color": "black", "strokeWidth": 2, "clip": true}, "encoding": {"y": {"field": "lo", "type": "quantitative"}, "y2": {"field": "hi"}}},
       {"data": {"name": "he"}, "transform": [{"filter": "datum.o == 0"}], "mark": {"type": "circle", "color": "black", "size": 36, "opacity": 1}, "encoding": {}},
       {"data": {"name": "he"}, "transform": [{"filter": "datum.o == 1"}], "mark": {"type": "point", "filled": false, "color": "black", "size": 36, "strokeWidth": 1.2, "opacity": 1}, "encoding": {}},
       {"data": {"name": "tag"}, "transform": [{"filter": "datum.p == 'f'"}], "mark": {"type": "text", "fontSize": 15, "color": "black"}, "encoding": {"text": {"field": "t"}}}
     ]},
    {"width": 239.5, "height": 132,
     "encoding": {"x": {"field": "x", "type": "quantitative", "scale": {"domain": [0.2, 0.995]}, "axis": null},
                  "y": {"field": "y", "type": "quantitative", "scale": {"domain": [0.98, 1.35]}, "axis": {"values": [1.0, 1.1, 1.2, 1.3], "labels": false, "title": null}}},
     "layer": [
       {"data": {"name": "band"}, "transform": [{"filter": "datum.p == 'g'"}], "mark": {"type": "area", "color": "#b1b1fb", "interpolate": "monotone", "clip": true}, "encoding": {"y": {"field": "lo", "type": "quantitative"}, "y2": {"field": "hi"}}},
       {"data": {"name": "gray"}, "transform": [{"filter": "datum.p == 'g'"}], "mark": {"type": "line", "color": "#5f5f5f", "strokeWidth": 2.6, "interpolate": "monotone", "clip": true}, "encoding": {}},
       {"data": {"name": "gray"}, "transform": [{"filter": "datum.p == 'g'"}], "mark": {"type": "line", "color": "#9a9a9a", "strokeWidth": 0.8, "interpolate": "monotone", "clip": true}, "encoding": {}},
       {"data": {"name": "he"}, "mark": {"type": "rule", "color": "black", "strokeWidth": 2, "clip": true}, "encoding": {"y": {"field": "lo", "type": "quantitative"}, "y2": {"field": "hi"}}},
       {"data": {"name": "he"}, "transform": [{"filter": "datum.o == 0"}], "mark": {"type": "circle", "color": "black", "size": 36, "opacity": 1}, "encoding": {}},
       {"data": {"name": "he"}, "transform": [{"filter": "datum.o == 1"}], "mark": {"type": "point", "filled": false, "color": "black", "size": 36, "strokeWidth": 1.2, "opacity": 1}, "encoding": {}},
       {"data": {"name": "tag"}, "transform": [{"filter": "datum.p == 'g'"}], "mark": {"type": "text", "fontSize": 15, "color": "black"}, "encoding": {"text": {"field": "t"}}}
     ]},
    {"width": 231, "height": 132,
     "encoding": {"x": {"field": "x", "type": "quantitative", "scale": {"domain": [0.2, 0.9668]}, "axis": null},
                  "y": {"field": "y", "type": "quantitative", "scale": {"domain": [0.98, 1.35]}, "axis": {"values": [1.0, 1.1, 1.2, 1.3], "labels": false, "title": null}}},
     "layer": [
       {"data": {"name": "band"}, "transform": [{"filter": "datum.p == 'h'"}], "mark": {"type": "area", "color": "#b1b1fb", "interpolate": "monotone", "clip": true}, "encoding": {"y": {"field": "lo", "type": "quantitative"}, "y2": {"field": "hi"}}},
       {"data": {"name": "gray"}, "transform": [{"filter": "datum.p == 'h'"}], "mark": {"type": "line", "color": "#5f5f5f", "strokeWidth": 2.6, "interpolate": "monotone", "clip": true}, "encoding": {}},
       {"data": {"name": "gray"}, "transform": [{"filter": "datum.p == 'h'"}], "mark": {"type": "line", "color": "#9a9a9a", "strokeWidth": 0.8, "interpolate": "monotone", "clip": true}, "encoding": {}},
       {"data": {"name": "he"}, "mark": {"type": "rule", "color": "black", "strokeWidth": 2, "clip": true}, "encoding": {"y": {"field": "lo", "type": "quantitative"}, "y2": {"field": "hi"}}},
       {"data": {"name": "he"}, "transform": [{"filter": "datum.o == 0"}], "mark": {"type": "circle", "color": "black", "size": 36, "opacity": 1}, "encoding": {}},
       {"data": {"name": "he"}, "transform": [{"filter": "datum.o == 1"}], "mark": {"type": "point", "filled": false, "color": "black", "size": 36, "strokeWidth": 1.2, "opacity": 1}, "encoding": {}},
       {"data": {"name": "tag"}, "transform": [{"filter": "datum.p == 'h'"}], "mark": {"type": "text", "fontSize": 15, "color": "black"}, "encoding": {"text": {"field": "t"}}}
     ]},
    {"width": 239.5, "height": 132,
     "encoding": {"x": {"field": "x", "type": "quantitative", "scale": {"domain": [0.2, 0.995]}, "axis": null},
                  "y": {"field": "y", "type": "quantitative", "scale": {"domain": [0.92, 1.25]}, "axis": {"values": [1.0, 1.1, 1.2], "format": ".1f", "title": "F₂ᵈ/(F₂ᵖ + F₂ⁿ)", "titleFontWeight": "normal"}}},
     "layer": [
       {"data": {"name": "band"}, "transform": [{"filter": "datum.p == 'i'"}], "mark": {"type": "area", "color": "#ffb5b5", "interpolate": "monotone", "clip": true}, "encoding": {"y": {"field": "lo", "type": "quantitative"}, "y2": {"field": "hi"}}},
       {"data": {"name": "gray"}, "transform": [{"filter": "datum.p == 'i'"}], "mark": {"type": "line", "color": "#5a5a5a", "strokeWidth": 3.4, "interpolate": "monotone", "clip": true}, "encoding": {}},
       {"data": {"name": "gray"}, "transform": [{"filter": "datum.p == 'i'"}], "mark": {"type": "line", "color": "#a2a2a2", "strokeWidth": 1.1, "interpolate": "monotone", "clip": true}, "encoding": {}},
       {"data": {"name": "dnp"}, "mark": {"type": "rule", "color": "black", "strokeWidth": 2, "clip": true}, "encoding": {"y": {"field": "lo", "type": "quantitative"}, "y2": {"field": "hi"}}},
       {"data": {"name": "dnp"}, "mark": {"type": "circle", "color": "black", "size": 36, "opacity": 1}, "encoding": {}},
       {"data": {"name": "tag"}, "transform": [{"filter": "datum.p == 'i'"}], "mark": {"type": "text", "fontSize": 15, "color": "black"}, "encoding": {"text": {"field": "t"}}},
       {"data": {"name": "nm"}, "transform": [{"filter": "datum.p == 'i'"}], "mark": {"type": "text", "fontSize": 12, "align": "left", "color": "black"}, "encoding": {"text": {"field": "t"}}}
     ]},
    {"width": 239.5, "height": 132,
     "encoding": {"x": {"field": "x", "type": "quantitative", "scale": {"domain": [0.2, 0.995]}, "axis": null},
                  "y": {"field": "y", "type": "quantitative", "scale": {"domain": [0.92, 1.25]}, "axis": {"values": [1.0, 1.1, 1.2], "labels": false, "title": null}}},
     "layer": [
       {"data": {"name": "band"}, "transform": [{"filter": "datum.p == 'j'"}], "mark": {"type": "area", "color": "#ffb5b5", "interpolate": "monotone", "clip": true}, "encoding": {"y": {"field": "lo", "type": "quantitative"}, "y2": {"field": "hi"}}},
       {"data": {"name": "gray"}, "transform": [{"filter": "datum.p == 'j'"}], "mark": {"type": "line", "color": "#5a5a5a", "strokeWidth": 3.4, "interpolate": "monotone", "clip": true}, "encoding": {}},
       {"data": {"name": "gray"}, "transform": [{"filter": "datum.p == 'j'"}], "mark": {"type": "line", "color": "#a2a2a2", "strokeWidth": 1.1, "interpolate": "monotone", "clip": true}, "encoding": {}},
       {"data": {"name": "dnp"}, "mark": {"type": "rule", "color": "black", "strokeWidth": 2, "clip": true}, "encoding": {"y": {"field": "lo", "type": "quantitative"}, "y2": {"field": "hi"}}},
       {"data": {"name": "dnp"}, "mark": {"type": "circle", "color": "black", "size": 36, "opacity": 1}, "encoding": {}},
       {"data": {"name": "tag"}, "transform": [{"filter": "datum.p == 'j'"}], "mark": {"type": "text", "fontSize": 15, "color": "black"}, "encoding": {"text": {"field": "t"}}},
       {"data": {"name": "nm"}, "transform": [{"filter": "datum.p == 'j'"}], "mark": {"type": "text", "fontSize": 12, "align": "left", "color": "black"}, "encoding": {"text": {"field": "t"}}}
     ]},
    {"width": 239.5, "height": 132,
     "encoding": {"x": {"field": "x", "type": "quantitative", "scale": {"domain": [0.2, 0.995]}, "axis": null},
                  "y": {"field": "y", "type": "quantitative", "scale": {"domain": [0.92, 1.25]}, "axis": {"values": [1.0, 1.1, 1.2], "labels": false, "title": null}}},
     "layer": [
       {"data": {"name": "band"}, "transform": [{"filter": "datum.p == 'k'"}], "mark": {"type": "area", "color": "#ffb5b5", "interpolate": "monotone", "clip": true}, "encoding": {"y": {"field": "lo", "type": "quantitative"}, "y2": {"field": "hi"}}},
       {"data": {"name": "gray"}, "transform": [{"filter": "datum.p == 'k'"}], "mark": {"type": "line", "color": "#5a5a5a", "strokeWidth": 3.4, "interpolate": "monotone", "clip": true}, "encoding": {}},
       {"data": {"name": "gray"}, "transform": [{"filter": "datum.p == 'k'"}], "mark": {"type": "line", "color": "#a2a2a2", "strokeWidth": 1.1, "interpolate": "monotone", "clip": true}, "encoding": {}},
       {"data": {"name": "dnp"}, "mark": {"type": "rule", "color": "black", "strokeWidth": 2, "clip": true}, "encoding": {"y": {"field": "lo", "type": "quantitative"}, "y2": {"field": "hi"}}},
       {"data": {"name": "dnp"}, "mark": {"type": "circle", "color": "black", "size": 36, "opacity": 1}, "encoding": {}},
       {"data": {"name": "tag"}, "transform": [{"filter": "datum.p == 'k'"}], "mark": {"type": "text", "fontSize": 15, "color": "black"}, "encoding": {"text": {"field": "t"}}},
       {"data": {"name": "nm"}, "transform": [{"filter": "datum.p == 'k'"}], "mark": {"type": "text", "fontSize": 12, "align": "left", "color": "black"}, "encoding": {"text": {"field": "t"}}}
     ]},
    {"width": 231, "height": 132,
     "encoding": {"x": {"field": "x", "type": "quantitative", "scale": {"domain": [0.2, 0.9668]}, "axis": null},
                  "y": {"field": "y", "type": "quantitative", "scale": {"domain": [0.92, 1.25]}, "axis": {"values": [1.0, 1.1, 1.2], "labels": false, "title": null}}},
     "layer": [
       {"data": {"name": "band"}, "transform": [{"filter": "datum.p == 'l'"}], "mark": {"type": "area", "color": "#ffb5b5", "interpolate": "monotone", "clip": true}, "encoding": {"y": {"field": "lo", "type": "quantitative"}, "y2": {"field": "hi"}}},
       {"data": {"name": "gray"}, "transform": [{"filter": "datum.p == 'l'"}], "mark": {"type": "line", "color": "#5a5a5a", "strokeWidth": 3.4, "interpolate": "monotone", "clip": true}, "encoding": {}},
       {"data": {"name": "gray"}, "transform": [{"filter": "datum.p == 'l'"}], "mark": {"type": "line", "color": "#a2a2a2", "strokeWidth": 1.1, "interpolate": "monotone", "clip": true}, "encoding": {}},
       {"data": {"name": "dnp"}, "mark": {"type": "rule", "color": "black", "strokeWidth": 2, "clip": true}, "encoding": {"y": {"field": "lo", "type": "quantitative"}, "y2": {"field": "hi"}}},
       {"data": {"name": "dnp"}, "mark": {"type": "circle", "color": "black", "size": 36, "opacity": 1}, "encoding": {}},
       {"data": {"name": "tag"}, "transform": [{"filter": "datum.p == 'l'"}], "mark": {"type": "text", "fontSize": 15, "color": "black"}, "encoding": {"text": {"field": "t"}}},
       {"data": {"name": "nm"}, "transform": [{"filter": "datum.p == 'l'"}], "mark": {"type": "text", "fontSize": 12, "align": "left", "color": "black"}, "encoding": {"text": {"field": "t"}}}
     ]},
    {"width": 239.5, "height": 132,
     "encoding": {"x": {"field": "x", "type": "quantitative", "scale": {"domain": [0.2, 0.995]}, "axis": {"values": [0.3, 0.5, 0.7, 0.9], "format": ".1f", "title": "xʙ", "titleFontWeight": "normal"}},
                  "y": {"field": "y", "type": "quantitative", "scale": {"domain": [0.98, 1.35]}, "axis": {"values": [1.0, 1.1, 1.2, 1.3], "format": ".1f", "title": "F₂³ᴴᵉ/F₂ᵈ", "titleFontWeight": "normal"}}},
     "layer": [
       {"data": {"name": "band"}, "transform": [{"filter": "datum.p == 'm'"}], "mark": {"type": "area", "color": "#ffb5b5", "interpolate": "monotone", "clip": true}, "encoding": {"y": {"field": "lo", "type": "quantitative"}, "y2": {"field": "hi"}}},
       {"data": {"name": "gray"}, "transform": [{"filter": "datum.p == 'm'"}], "mark": {"type": "line", "color": "#5f5f5f", "strokeWidth": 2.6, "interpolate": "monotone", "clip": true}, "encoding": {}},
       {"data": {"name": "gray"}, "transform": [{"filter": "datum.p == 'm'"}], "mark": {"type": "line", "color": "#9a9a9a", "strokeWidth": 0.8, "interpolate": "monotone", "clip": true}, "encoding": {}},
       {"data": {"name": "he"}, "mark": {"type": "rule", "color": "black", "strokeWidth": 2, "clip": true}, "encoding": {"y": {"field": "lo", "type": "quantitative"}, "y2": {"field": "hi"}}},
       {"data": {"name": "he"}, "transform": [{"filter": "datum.o == 0"}], "mark": {"type": "circle", "color": "black", "size": 36, "opacity": 1}, "encoding": {}},
       {"data": {"name": "he"}, "transform": [{"filter": "datum.o == 1"}], "mark": {"type": "point", "filled": false, "color": "black", "size": 36, "strokeWidth": 1.2, "opacity": 1}, "encoding": {}},
       {"data": {"name": "tag"}, "transform": [{"filter": "datum.p == 'm'"}], "mark": {"type": "text", "fontSize": 15, "color": "black"}, "encoding": {"text": {"field": "t"}}}
     ]},
    {"width": 239.5, "height": 132,
     "encoding": {"x": {"field": "x", "type": "quantitative", "scale": {"domain": [0.2, 0.995]}, "axis": {"values": [0.3, 0.5, 0.7, 0.9], "format": ".1f", "title": "xʙ", "titleFontWeight": "normal"}},
                  "y": {"field": "y", "type": "quantitative", "scale": {"domain": [0.98, 1.35]}, "axis": {"values": [1.0, 1.1, 1.2, 1.3], "labels": false, "title": null}}},
     "layer": [
       {"data": {"name": "band"}, "transform": [{"filter": "datum.p == 'n'"}], "mark": {"type": "area", "color": "#ffb5b5", "interpolate": "monotone", "clip": true}, "encoding": {"y": {"field": "lo", "type": "quantitative"}, "y2": {"field": "hi"}}},
       {"data": {"name": "gray"}, "transform": [{"filter": "datum.p == 'n'"}], "mark": {"type": "line", "color": "#5f5f5f", "strokeWidth": 2.6, "interpolate": "monotone", "clip": true}, "encoding": {}},
       {"data": {"name": "gray"}, "transform": [{"filter": "datum.p == 'n'"}], "mark": {"type": "line", "color": "#9a9a9a", "strokeWidth": 0.8, "interpolate": "monotone", "clip": true}, "encoding": {}},
       {"data": {"name": "he"}, "mark": {"type": "rule", "color": "black", "strokeWidth": 2, "clip": true}, "encoding": {"y": {"field": "lo", "type": "quantitative"}, "y2": {"field": "hi"}}},
       {"data": {"name": "he"}, "transform": [{"filter": "datum.o == 0"}], "mark": {"type": "circle", "color": "black", "size": 36, "opacity": 1}, "encoding": {}},
       {"data": {"name": "he"}, "transform": [{"filter": "datum.o == 1"}], "mark": {"type": "point", "filled": false, "color": "black", "size": 36, "strokeWidth": 1.2, "opacity": 1}, "encoding": {}},
       {"data": {"name": "tag"}, "transform": [{"filter": "datum.p == 'n'"}], "mark": {"type": "text", "fontSize": 15, "color": "black"}, "encoding": {"text": {"field": "t"}}}
     ]},
    {"width": 239.5, "height": 132,
     "encoding": {"x": {"field": "x", "type": "quantitative", "scale": {"domain": [0.2, 0.995]}, "axis": {"values": [0.3, 0.5, 0.7, 0.9], "format": ".1f", "title": "xʙ", "titleFontWeight": "normal"}},
                  "y": {"field": "y", "type": "quantitative", "scale": {"domain": [0.98, 1.35]}, "axis": {"values": [1.0, 1.1, 1.2, 1.3], "labels": false, "title": null}}},
     "layer": [
       {"data": {"name": "band"}, "transform": [{"filter": "datum.p == 'o'"}], "mark": {"type": "area", "color": "#ffb5b5", "interpolate": "monotone", "clip": true}, "encoding": {"y": {"field": "lo", "type": "quantitative"}, "y2": {"field": "hi"}}},
       {"data": {"name": "gray"}, "transform": [{"filter": "datum.p == 'o'"}], "mark": {"type": "line", "color": "#5f5f5f", "strokeWidth": 2.6, "interpolate": "monotone", "clip": true}, "encoding": {}},
       {"data": {"name": "gray"}, "transform": [{"filter": "datum.p == 'o'"}], "mark": {"type": "line", "color": "#9a9a9a", "strokeWidth": 0.8, "interpolate": "monotone", "clip": true}, "encoding": {}},
       {"data": {"name": "he"}, "mark": {"type": "rule", "color": "black", "strokeWidth": 2, "clip": true}, "encoding": {"y": {"field": "lo", "type": "quantitative"}, "y2": {"field": "hi"}}},
       {"data": {"name": "he"}, "transform": [{"filter": "datum.o == 0"}], "mark": {"type": "circle", "color": "black", "size": 36, "opacity": 1}, "encoding": {}},
       {"data": {"name": "he"}, "transform": [{"filter": "datum.o == 1"}], "mark": {"type": "point", "filled": false, "color": "black", "size": 36, "strokeWidth": 1.2, "opacity": 1}, "encoding": {}},
       {"data": {"name": "tag"}, "transform": [{"filter": "datum.p == 'o'"}], "mark": {"type": "text", "fontSize": 15, "color": "black"}, "encoding": {"text": {"field": "t"}}}
     ]},
    {"width": 231, "height": 132,
     "encoding": {"x": {"field": "x", "type": "quantitative", "scale": {"domain": [0.2, 0.9668]}, "axis": {"values": [0.3, 0.5, 0.7, 0.9], "format": ".1f", "title": "xʙ", "titleFontWeight": "normal"}},
                  "y": {"field": "y", "type": "quantitative", "scale": {"domain": [0.98, 1.35]}, "axis": {"values": [1.0, 1.1, 1.2, 1.3], "labels": false, "title": null}}},
     "layer": [
       {"data": {"name": "band"}, "transform": [{"filter": "datum.p == 'p'"}], "mark": {"type": "area", "color": "#ffb5b5", "interpolate": "monotone", "clip": true}, "encoding": {"y": {"field": "lo", "type": "quantitative"}, "y2": {"field": "hi"}}},
       {"data": {"name": "gray"}, "transform": [{"filter": "datum.p == 'p'"}], "mark": {"type": "line", "color": "#5f5f5f", "strokeWidth": 2.6, "interpolate": "monotone", "clip": true}, "encoding": {}},
       {"data": {"name": "gray"}, "transform": [{"filter": "datum.p == 'p'"}], "mark": {"type": "line", "color": "#9a9a9a", "strokeWidth": 0.8, "interpolate": "monotone", "clip": true}, "encoding": {}},
       {"data": {"name": "he"}, "mark": {"type": "rule", "color": "black", "strokeWidth": 2, "clip": true}, "encoding": {"y": {"field": "lo", "type": "quantitative"}, "y2": {"field": "hi"}}},
       {"data": {"name": "he"}, "transform": [{"filter": "datum.o == 0"}], "mark": {"type": "circle", "color": "black", "size": 36, "opacity": 1}, "encoding": {}},
       {"data": {"name": "he"}, "transform": [{"filter": "datum.o == 1"}], "mark": {"type": "point", "filled": false, "color": "black", "size": 36, "strokeWidth": 1.2, "opacity": 1}, "encoding": {}},
       {"data": {"name": "tag"}, "transform": [{"filter": "datum.p == 'p'"}], "mark": {"type": "text", "fontSize": 15, "color": "black"}, "encoding": {"text": {"field": "t"}}}
     ]}
  ],
  "config": {
    "view": {"stroke": "black", "strokeWidth": 1},
    "font": "DejaVu Sans",
    "axis": {"grid": false, "domain": false, "tickColor": "black", "tickSize": 4, "tickWidth": 1, "labelFont": "DejaVu Sans", "labelFontSize": 12, "labelColor": "black", "labelPadding": 3, "titleFont": "DejaVu Sans", "titleFontSize": 16, "titleFontWeight": "normal", "titleFontStyle": "italic", "titleColor": "black"},
    "axisY": {"titlePadding": 18},
    "axisX": {"titlePadding": 3},
    "text": {"font": "DejaVu Sans"}
  }
}
